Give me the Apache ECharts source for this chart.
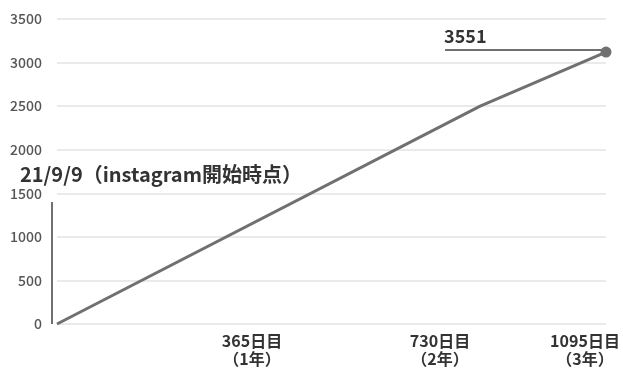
<!DOCTYPE html>
<html>
<head>
<meta charset="utf-8">
<script src="https://cdn.jsdelivr.net/npm/echarts@6/dist/echarts.min.js"></script>
<style>
  html, body { margin: 0; padding: 0; background: #fff; }
  #chart { width: 623px; height: 376px; }
</style>
</head>
<body>
<div id="chart"></div>
<script>
// follower count by day since start
const days = [0, 844, 1095];
const followers = [0, 2500, 3120];
const yTicks = [0, 500, 1000, 1500, 2000, 2500, 3000, 3500];
const xTickLabels = { 365: '365日目\n（1年）', 730: '730日目\n（2年）', 1095: '1095日目\n（3年）' };
const startNote = '21/9/9（instagram開始時点）';
const endNote = '3551';
const noteLineFrom = 774;
const startMarkTop = 1400;

const font = '"Noto Sans CJK JP", "Noto Sans", sans-serif';
const gray = '#707070';

const chart = echarts.init(document.getElementById('chart'));

chart.setOption({
    backgroundColor: '#fff',
    animation: false,
    title: {
        text: startNote,
        left: 15,
        top: 159,
        textStyle: { color: '#333', fontSize: 20, fontWeight: 'bold', fontFamily: font }
    },
    grid: { left: 57, right: 17, top: 19, bottom: 52, containLabel: false, outerBoundsMode: 'none' },
    xAxis: {
        type: 'value',
        min: 0,
        max: 1095,
        interval: 365,
        axisLine: { show: false },
        axisTick: { show: false },
        splitLine: { show: false },
        axisLabel: {
            margin: 8,
            showMinLabel: false,
            hideOverlap: false,
            formatter: function (v) {
                const t = xTickLabels[v];
                if (!t) return '';
                const key = v === 1095 ? 'c' : (v === 730 ? 'b' : 'a');
                return t.split('\n').map(s => '{' + key + '|' + s + '}').join('\n');
            },
            rich: {
                a: { fontSize: 16, fontWeight: 'bold', color: '#333', fontFamily: font, lineHeight: 18, padding: [0, 0, 0, 24] },
                b: { fontSize: 16, fontWeight: 'bold', color: '#333', fontFamily: font, lineHeight: 18, padding: [0, 0, 0, 34] },
                c: { fontSize: 16, fontWeight: 'bold', color: '#333', fontFamily: font, lineHeight: 18, padding: [0, 42, 0, 0] }
            }
        }
    },
    yAxis: {
        type: 'value',
        min: yTicks[0],
        max: yTicks[yTicks.length - 1],
        interval: 500,
        axisLine: { show: false },
        axisTick: { show: false },
        axisLabel: {
            color: '#555', fontSize: 14, fontWeight: 500, fontFamily: font, margin: 15,
            formatter: v => String(v)
        },
        splitLine: { lineStyle: { color: '#e3e3e3', width: 1.5 } }
    },
    series: [
        {
            type: 'line',
            data: days.map((d, i) => [d, followers[i]]),
            clip: false,
            lineStyle: { color: gray, width: 3 },
            itemStyle: { color: gray },
            symbol: 'circle',
            symbolSize: function (val, params) {
                return params.dataIndex === days.length - 1 ? 11 : 0;
            },
            markLine: {
                silent: true,
                symbol: 'none',
                animation: false,
                data: [
                    [
                        { coord: [noteLineFrom, followers[followers.length - 1] + 25] },
                        { coord: [days[days.length - 1], followers[followers.length - 1] + 25] }
                    ]
                ],
                lineStyle: { color: gray, width: 2, type: 'solid' },
                label: { show: false }
            },
            markPoint: {
                silent: true,
                symbol: 'rect',
                symbolSize: 0,
                data: [{ coord: [noteLineFrom, followers[followers.length - 1] + 25] }],
                label: {
                    show: true,
                    formatter: endNote,
                    position: 'right',
                    offset: [-6, -14],
                    color: '#333',
                    fontSize: 18,
                    fontWeight: 'bold',
                    fontFamily: font
                }
            }
        }
    ]
});

// short vertical marker just left of the start point
const p0 = chart.convertToPixel({ gridIndex: 0 }, [0, 0]);
const p1 = chart.convertToPixel({ gridIndex: 0 }, [0, startMarkTop]);
chart.setOption({
    graphic: [{
        type: 'line',
        silent: true,
        shape: { x1: p0[0] - 5, y1: p0[1], x2: p1[0] - 5, y2: p1[1] },
        style: { stroke: gray, lineWidth: 2 }
    }]
});
</script>
</body>
</html>
